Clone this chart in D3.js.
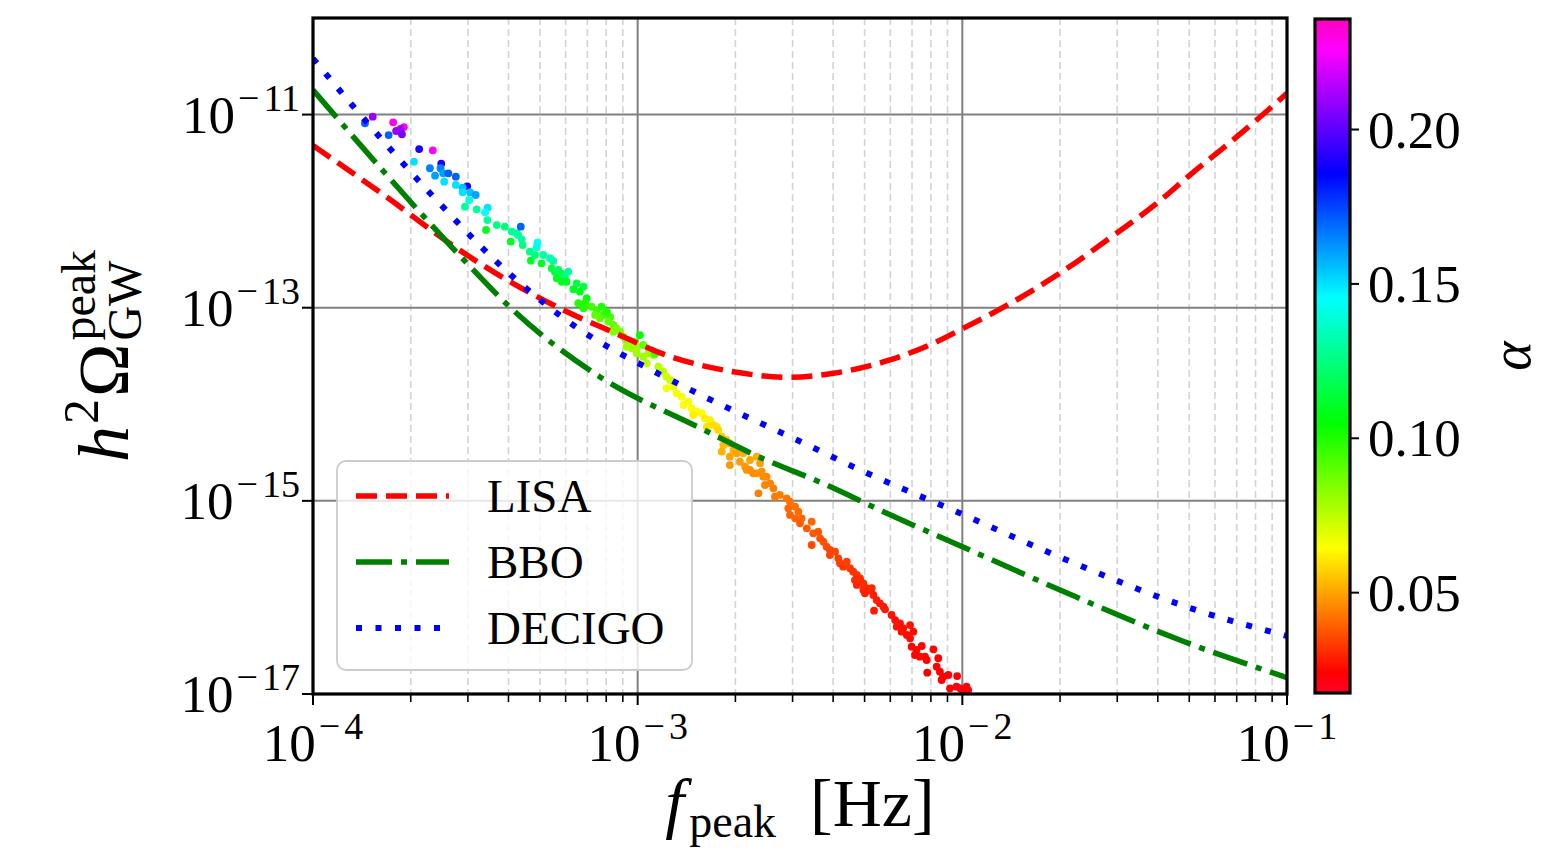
<!DOCTYPE html>
<html><head><meta charset="utf-8">
<script src="https://cdn.jsdelivr.net/npm/d3@7"></script>
<style>
body{margin:0;background:#fff}
text{font-family:"Liberation Serif","Times New Roman",serif;fill:#000}
</style>
</head><body>
<svg id="chart" width="1558" height="850"></svg>
<script>
// ---------------- data (log10 values) ----------------
const lisaLogF     = [-4.0,-3.782,-3.557,-3.393,-3.229,-3.044,-2.941,-2.705,-2.531,-2.397,-2.223,-2.089,-1.997,-1.884,-1.699,-1.524,-1.400,-1.299,-1.166,-1.083,-1.0];
const lisaLogOmega = [-11.32,-11.833,-12.385,-12.731,-13.024,-13.300,-13.455,-13.663,-13.721,-13.679,-13.541,-13.368,-13.213,-13.015,-12.641,-12.226,-11.916,-11.626,-11.263,-11.025,-10.78];

const bboLogF     = [-4.0,-3.800,-3.541,-3.384,-3.116,-2.808,-2.639,-2.418,-2.243,-1.998,-1.699,-1.330,-1.0];
const bboLogOmega = [-10.745,-11.522,-12.485,-13.024,-13.717,-14.245,-14.525,-14.836,-15.112,-15.478,-15.923,-16.441,-16.83];

const decigoLogF     = [-4.0,-3.877,-3.640,-3.387,-3.199,-2.940,-2.786,-2.509,-2.294,-2.016,-1.693,-1.299,-1.0];
const decigoLogOmega = [-10.42,-10.911,-11.812,-12.672,-13.179,-13.676,-13.935,-14.370,-14.712,-15.115,-15.592,-16.109,-16.40];

const scatterLogF = [
-3.840,-3.816,-3.767,-3.753,-3.720,-3.744,-3.730,-3.726,-3.673,-3.631,-3.689,-3.605,-3.640,-3.607,-3.599,-3.583,-3.624,-3.596,-3.560,-3.560,
-3.525,-3.539,-3.539,-3.516,-3.499,-3.519,-3.532,-3.496,-3.462,-3.470,-3.463,-3.467,-3.434,-3.409,-3.388,-3.373,-3.391,-3.368,-3.360,-3.357,
-3.354,-3.309,-3.311,-3.332,-3.316,-3.291,-3.270,-3.260,-3.329,-3.296,-3.265,-3.255,-3.244,-3.234,-3.249,-3.224,-3.214,-3.234,-3.219,-3.188,
-3.167,-3.198,-3.178,-3.157,-3.162,-3.183,-3.167,-3.142,-3.126,-3.111,-3.131,-3.106,-3.095,-3.116,-3.085,-3.090,-3.075,-3.065,-3.054,-3.075,
-2.993,-3.044,-3.034,-3.024,-3.008,-3.003,-3.018,-3.034,-3.003,-2.983,-2.972,-2.983,-2.967,-2.952,-2.947,-2.936,-2.921,-2.911,-2.900,-2.911,
-2.890,-2.880,-2.864,-2.859,-2.844,-2.834,-2.818,-2.829,-2.803,-2.793,-2.777,-2.767,-2.757,-2.787,-2.752,-2.741,-2.726,-2.736,-2.716,-2.705,
-2.716,-2.695,-2.741,-2.716,-2.685,-2.669,-2.654,-2.633,-2.613,-2.675,-2.654,-2.633,-2.623,-2.664,-2.644,-2.618,-2.603,-2.592,-2.608,-2.582,
-2.628,-2.577,-2.562,-2.541,-2.531,-2.536,-2.515,-2.505,-2.531,-2.515,-2.495,-2.500,-2.479,-2.464,-2.459,-2.444,-2.438,-2.464,-2.428,-2.418,
-2.408,-2.408,-2.392,-2.382,-2.377,-2.367,-2.356,-2.346,-2.336,-2.325,-2.331,-2.315,-2.305,-2.295,-2.279,-2.315,-2.325,-2.305,-2.284,-2.274,
-2.300,-2.264,-2.254,-2.243,-2.272,-2.238,-2.218,-2.207,-2.192,-2.202,-2.182,-2.187,-2.161,-2.151,-2.171,-2.161,-2.156,-2.141,-2.125,-2.146,
-2.131,-2.115,-2.110,-2.089,-2.074,-2.079,-2.069,-2.108,-2.059,-2.043,-2.016,-2.064,-2.038,-2.018,-2.007,-1.987,-1.982,-1.998];
const scatterLogOmega = [
-11.090,-11.022,-11.212,-11.080,-11.129,-11.170,-11.149,-11.204,-11.357,-11.370,-11.488,-11.509,-11.556,-11.556,-11.608,-11.608,-11.633,-11.695,-11.643,-11.729,
-11.743,-11.757,-11.805,-11.805,-11.833,-11.885,-11.954,-11.981,-11.964,-12.012,-12.092,-12.195,-12.144,-12.161,-12.213,-12.229,-12.316,-12.247,-12.161,-12.292,
-12.351,-12.327,-12.374,-12.420,-12.454,-12.454,-12.488,-12.516,-12.513,-12.540,-12.592,-12.627,-12.609,-12.651,-12.695,-12.679,-12.627,-12.731,-12.731,-12.747,
-12.782,-12.809,-12.834,-12.903,-12.954,-12.954,-13.006,-12.990,-13.024,-12.990,-13.075,-13.075,-13.041,-13.110,-13.093,-13.145,-13.179,-13.213,-13.248,-13.248,
-13.283,-13.300,-13.334,-13.368,-13.352,-13.420,-13.420,-13.404,-13.472,-13.507,-13.576,-13.386,-13.472,-13.490,-13.479,-13.611,-13.663,-13.714,-13.749,-13.834,
-13.818,-13.886,-13.921,-14.007,-13.973,-14.042,-14.077,-14.111,-14.093,-14.145,-14.163,-14.214,-14.232,-14.232,-14.266,-14.336,-14.370,-14.422,-14.404,-14.473,
-14.543,-14.508,-14.491,-14.629,-14.595,-14.646,-14.680,-14.715,-14.750,-14.508,-14.577,-14.543,-14.611,-14.680,-14.715,-14.698,-14.750,-14.818,-14.836,-14.870,
-14.922,-14.957,-14.939,-14.974,-15.009,-15.077,-15.060,-15.112,-15.146,-15.181,-15.181,-15.232,-15.284,-15.216,-15.336,-15.319,-15.388,-15.457,-15.423,-15.475,
-15.509,-15.561,-15.526,-15.595,-15.647,-15.682,-15.630,-15.698,-15.734,-15.768,-15.820,-15.820,-15.854,-15.905,-15.905,-15.802,-15.871,-15.923,-15.923,-15.975,
-15.957,-16.027,-16.061,-16.096,-16.137,-16.123,-16.182,-16.234,-16.268,-16.303,-16.320,-16.355,-16.286,-16.355,-16.389,-16.423,-16.510,-16.544,-16.503,-16.596,
-16.614,-16.614,-16.648,-16.537,-16.630,-16.717,-16.769,-16.779,-16.821,-16.803,-16.814,-16.855,-16.941,-16.924,-16.941,-16.924,-16.959,-16.976];
const scatterAlpha = [
0.170,0.210,0.170,0.228,0.228,0.210,0.210,0.205,0.190,0.225,0.150,0.190,0.165,0.165,0.160,0.170,0.160,0.150,0.170,0.150,
0.190,0.155,0.150,0.155,0.160,0.140,0.130,0.130,0.150,0.145,0.130,0.110,0.125,0.125,0.130,0.130,0.110,0.130,0.170,0.130,
0.125,0.145,0.140,0.125,0.125,0.130,0.135,0.130,0.110,0.110,0.115,0.115,0.120,0.115,0.110,0.125,0.130,0.110,0.110,0.115,
0.115,0.110,0.110,0.105,0.100,0.100,0.100,0.095,0.095,0.100,0.090,0.095,0.100,0.090,0.095,0.090,0.090,0.085,0.085,0.085,
0.105,0.085,0.085,0.080,0.085,0.080,0.080,0.080,0.080,0.080,0.075,0.090,0.080,0.080,0.095,0.075,0.075,0.072,0.072,0.066,
0.068,0.066,0.066,0.064,0.066,0.064,0.064,0.062,0.064,0.062,0.062,0.060,0.060,0.060,0.058,0.056,0.055,0.054,0.053,0.052,
0.050,0.050,0.052,0.048,0.049,0.048,0.047,0.047,0.046,0.052,0.050,0.052,0.049,0.047,0.046,0.047,0.046,0.045,0.045,0.044,
0.044,0.043,0.044,0.043,0.042,0.041,0.042,0.041,0.040,0.040,0.040,0.039,0.038,0.040,0.038,0.038,0.037,0.036,0.037,0.036,
0.035,0.035,0.035,0.034,0.034,0.033,0.034,0.033,0.032,0.032,0.031,0.031,0.031,0.030,0.030,0.031,0.030,0.030,0.030,0.029,
0.029,0.029,0.028,0.028,0.028,0.028,0.027,0.027,0.027,0.027,0.026,0.026,0.027,0.026,0.026,0.026,0.025,0.025,0.025,0.025,
0.025,0.025,0.024,0.025,0.024,0.024,0.024,0.024,0.023,0.023,0.023,0.023,0.022,0.022,0.022,0.022,0.022,0.022];

const xTickExps = [-4,-3,-2,-1];
const yTickExps = [-17,-15,-13,-11];
const yGridExps = [-15,-13,-11];
const colorbarTicks = [0.05,0.10,0.15,0.20];
const alphaRange = [0.0175,0.2358];
const legendLabels = ["LISA","BBO","DECIGO"];

// ---------------- layout / style ----------------
const P = {l:313, r:1287, t:18, b:694};
const svg = d3.select("#chart");
const x = d3.scaleLog().domain([1e-4,1e-1]).range([P.l,P.r]);
const y = d3.scaleLog().domain([1e-17,1e-10]).range([P.b,P.t]);

// gist_rainbow colormap
const cmT = [0,0.03,0.215,0.4,0.586,0.77,0.954,1];
const cmC = ["rgb(255,0,41)","rgb(255,0,0)","rgb(255,255,0)","rgb(0,255,0)","rgb(0,255,255)","rgb(0,0,255)","rgb(255,0,255)","rgb(255,0,191)"];
const color = d3.scaleLinear()
  .domain(cmT.map(t=>alphaRange[0]+t*(alphaRange[1]-alphaRange[0])))
  .range(cmC).interpolate(d3.interpolateRgb).clamp(true);

const defs = svg.append("defs");
defs.append("clipPath").attr("id","plotclip").append("rect")
  .attr("x",P.l).attr("y",P.t).attr("width",P.r-P.l).attr("height",P.b-P.t);
const grad = defs.append("linearGradient").attr("id","cbgrad")
  .attr("x1",0).attr("y1",1).attr("x2",0).attr("y2",0);
cmT.forEach((t,i)=>grad.append("stop").attr("offset",t).attr("stop-color",cmC[i]));

// grid
const g = svg.append("g");
const minorX = [];
for (let e=-4;e<=-2;e++) for (let m=2;m<=9;m++) minorX.push(m*Math.pow(10,e));
g.selectAll(".mgrid").data(minorX).join("line")
  .attr("x1",d=>x(d)).attr("x2",d=>x(d)).attr("y1",P.t).attr("y2",P.b)
  .attr("stroke","#d3d3d3").attr("stroke-width",1.6).attr("stroke-dasharray","7,4");
g.selectAll(".xgrid").data([1e-3,1e-2]).join("line")
  .attr("x1",d=>x(d)).attr("x2",d=>x(d)).attr("y1",P.t).attr("y2",P.b)
  .attr("stroke","#808080").attr("stroke-width",2);
g.selectAll(".ygrid").data(yGridExps).join("line")
  .attr("x1",P.l).attr("x2",P.r).attr("y1",d=>y(Math.pow(10,d))).attr("y2",d=>y(Math.pow(10,d)))
  .attr("stroke","#808080").attr("stroke-width",2);

// scatter
const plot = svg.append("g").attr("clip-path","url(#plotclip)");
plot.selectAll("circle").data(scatterLogF.map((f,i)=>({f, o:scatterLogOmega[i], a:scatterAlpha[i]})))
  .join("circle")
  .attr("cx",d=>x(Math.pow(10,d.f))).attr("cy",d=>y(Math.pow(10,d.o)))
  .attr("r",3.9).attr("fill",d=>color(d.a));

// curves
const line = d3.line().curve(d3.curveMonotoneX).x(d=>x(Math.pow(10,d[0]))).y(d=>y(Math.pow(10,d[1])));
const styles = [
  {stroke:"#ff0000", w:5.5, dash:"21,9"},
  {stroke:"#008000", w:5.5, dash:"36,9,6,9"},
  {stroke:"#0000ff", w:6,   dash:"6,13.5"}
];
const curves = [
  d3.zip(lisaLogF,lisaLogOmega),
  d3.zip(bboLogF,bboLogOmega),
  d3.zip(decigoLogF,decigoLogOmega)
];
curves.forEach((c,i)=>{
  plot.append("path").attr("d",line(c)).attr("fill","none")
    .attr("stroke",styles[i].stroke).attr("stroke-width",styles[i].w)
    .attr("stroke-dasharray",styles[i].dash);
});

// frame
svg.append("rect").attr("x",P.l).attr("y",P.t).attr("width",P.r-P.l).attr("height",P.b-P.t)
  .attr("fill","none").attr("stroke","#000").attr("stroke-width",3.2);

// ticks
const ax = svg.append("g");
ax.selectAll(".xmin").data(minorX).join("line")
  .attr("x1",d=>x(d)).attr("x2",d=>x(d)).attr("y1",P.b).attr("y2",P.b+8)
  .attr("stroke","#000").attr("stroke-width",1.6);
ax.selectAll(".xmaj").data(xTickExps).join("line")
  .attr("x1",d=>x(Math.pow(10,d))).attr("x2",d=>x(Math.pow(10,d))).attr("y1",P.b).attr("y2",P.b+11)
  .attr("stroke","#000").attr("stroke-width",2);
ax.selectAll(".ymaj").data(yTickExps).join("line")
  .attr("x1",P.l-11).attr("x2",P.l).attr("y1",d=>y(Math.pow(10,d))).attr("y2",d=>y(Math.pow(10,d)))
  .attr("stroke","#000").attr("stroke-width",2);

function powText(sel, e){
  sel.append("tspan").text("10").attr("font-size",53);
  sel.append("tspan").text("\u2212").attr("font-size",38).attr("dy",-22).attr("dx",3);
  sel.append("tspan").text(String(Math.abs(e))).attr("font-size",38).attr("dx",4);
}
xTickExps.forEach(e=>{
  const t = ax.append("text").attr("x",x(Math.pow(10,e))).attr("y",761).attr("text-anchor","middle");
  powText(t,e);
});
yTickExps.forEach(e=>{
  const t = ax.append("text").attr("x",300).attr("y",y(Math.pow(10,e))+18).attr("text-anchor","end");
  powText(t,e);
});

// x label
const xl = svg.append("text").attr("x",800).attr("y",826).attr("text-anchor","middle");
xl.append("tspan").text("f").attr("font-size",68).attr("font-style","italic");
xl.append("tspan").text("peak").attr("font-size",46).attr("dy",11).attr("dx",5);
xl.append("tspan").text("\u2002[Hz]").attr("font-size",68).attr("dy",-11);

// y label (rotated)
const yl = svg.append("g").attr("transform","translate(128,356) rotate(-90)");
const ylt = yl.append("text").attr("x",0).attr("y",0);
ylt.append("tspan").text("h").attr("font-size",72).attr("font-style","italic");
ylt.append("tspan").text("2").attr("font-size",50).attr("dy",-30).attr("dx",2);
ylt.append("tspan").text("\u03A9").attr("font-size",72).attr("dy",30).attr("dx",2);
const sub = ylt.append("tspan").text("GW").attr("font-size",48).attr("dy",13).attr("dx",3);
const sup = ylt.append("tspan").text("peak").attr("font-size",48);
const gwW = sub.node().getComputedTextLength();
sup.attr("dx",-gwW).attr("dy",-46);
const bb = ylt.node().getBBox();
ylt.attr("x",-bb.width/2);

// legend
const lg = svg.append("g");
lg.append("rect").attr("x",337).attr("y",461).attr("width",355).attr("height",209).attr("rx",9)
  .attr("fill","#fff").attr("fill-opacity",0.8).attr("stroke","#cccccc").attr("stroke-width",1.8);
legendLabels.forEach((lab,i)=>{
  const yy = 496 + i*66;
  lg.append("line").attr("x1",356).attr("x2",449).attr("y1",yy).attr("y2",yy)
    .attr("stroke",styles[i].stroke).attr("stroke-width",styles[i].w).attr("stroke-dasharray",styles[i].dash);
  lg.append("text").attr("x",487).attr("y",yy+16).attr("font-size",47).text(lab);
});

// colorbar
const cbX=1315, cbW=35;
const cy = d3.scaleLinear().domain(alphaRange).range([693,19]);
svg.append("rect").attr("x",cbX).attr("y",19).attr("width",cbW).attr("height",674).attr("fill","url(#cbgrad)");
svg.append("rect").attr("x",cbX).attr("y",19).attr("width",cbW).attr("height",674)
  .attr("fill","none").attr("stroke","#000").attr("stroke-width",3.2);
colorbarTicks.forEach(v=>{
  svg.append("line").attr("x1",cbX+cbW).attr("x2",cbX+cbW+9).attr("y1",cy(v)).attr("y2",cy(v))
    .attr("stroke","#000").attr("stroke-width",2);
  svg.append("text").attr("x",1368).attr("y",cy(v)+18).attr("font-size",53).text(v.toFixed(2));
});
svg.append("text").attr("transform","translate(1530,356) rotate(-90)").attr("text-anchor","middle")
  .attr("font-size",56).attr("font-style","italic").text("\u03B1");
</script>
</body></html>
